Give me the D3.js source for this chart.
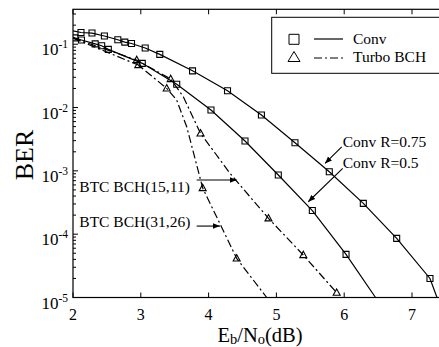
<!DOCTYPE html>
<html>
<head>
<meta charset="utf-8">
<script src="https://cdn.jsdelivr.net/npm/d3@7"></script>
<style>
html,body{margin:0;padding:0;background:#fff;}
svg{display:block;}
text{font-family:"Liberation Serif","Times New Roman",serif;fill:#000;}
</style>
</head>
<body>
<svg id="chart" width="439" height="347"></svg>
<script>
// ---- data ----
const xTicks = [2, 3, 4, 5, 6, 7];
const yTickExps = [-5, -4, -3, -2, -1];

const convR075X = [2.0, 2.118, 2.28, 2.463, 2.661, 2.764, 2.863, 3.065, 3.28, 3.763, 4.279, 4.779, 5.274, 5.78, 6.282, 6.774, 7.265, 7.369];
const convR075Y = [0.163, 0.153, 0.150, 0.135, 0.1175, 0.108, 0.1026, 0.0871, 0.0692, 0.038, 0.0184, 0.00762, 0.00278, 9.68e-4, 3.07e-4, 8.59e-5, 2.0e-5, 1.0e-5];

const convR05X = [2.0, 2.027, 2.125, 2.327, 2.423, 2.521, 3.022, 3.53, 4.035, 4.537, 5.028, 5.53, 6.027, 6.462];
const convR05Y = [0.129, 0.126, 0.1165, 0.1014, 0.0947, 0.083, 0.0499, 0.0233, 0.00912, 0.00296, 8.59e-4, 2.36e-4, 4.8e-5, 1.0e-5];

const btc1511X = [2.0, 2.94, 3.441, 3.627, 3.881, 4.316, 4.883, 5.397, 5.889];
const btc1511Y = [0.125, 0.0562, 0.0282, 0.01483, 0.00391, 9.12e-4, 1.78e-4, 4.68e-5, 1.19e-5];
const btc1511Marks = [1, 2, 4, 6, 7, 8];

const btc3126X = [2.0, 2.963, 3.382, 3.529, 3.677, 3.913, 4.414, 4.857];
const btc3126Y = [0.125, 0.0469, 0.0201, 0.01313, 0.00498, 5.35e-4, 4.15e-5, 1.0e-5];
const btc3126Marks = [1, 2, 5, 6];

const legendLabels = ["Conv", "Turbo BCH"];
const annotationLabels = ["Conv R=0.75", "Conv R=0.5", "BTC BCH(15,11)", "BTC BCH(31,26)"];

// ---- layout ----
const svg = d3.select("#chart");
const pLeft = 73, pTop = 9.3, pBottom = 297.5;
const x = d3.scaleLinear().domain([2, 7.5]).range([pLeft, pLeft + 5.5 * 67.8]);
const y = d3.scaleLog().domain([1e-5, 0.356]).range([pBottom, pTop]);
const pRight = x(7.5);

const defs = svg.append("defs");
defs.append("marker").attr("id", "arrow").attr("viewBox", "0 0 10 10")
  .attr("refX", 10).attr("refY", 5).attr("markerWidth", 7).attr("markerHeight", 7)
  .attr("markerUnits", "userSpaceOnUse").attr("orient", "auto")
  .append("path").attr("d", "M0,1 L10,5 L0,9 z").attr("fill", "#000");

// frame
svg.append("rect").attr("x", pLeft).attr("y", pTop).attr("width", pRight - pLeft).attr("height", pBottom - pTop)
  .attr("fill", "none").attr("stroke", "#000").attr("stroke-width", 1.2);

// x ticks (inward, bottom and top)
const g = svg.append("g");
xTicks.forEach(t => {
  g.append("line").attr("x1", x(t)).attr("x2", x(t)).attr("y1", pBottom).attr("y2", pBottom - 5).attr("stroke", "#000");
  g.append("line").attr("x1", x(t)).attr("x2", x(t)).attr("y1", pTop).attr("y2", pTop + 5).attr("stroke", "#000");
  g.append("text").attr("x", x(t)).attr("y", 319.5).attr("text-anchor", "middle").attr("font-size", 16).text(t);
});

// y ticks major + minor
yTickExps.forEach(e => {
  const v = Math.pow(10, e);
  g.append("line").attr("x1", pLeft).attr("x2", pLeft + 5).attr("y1", y(v)).attr("y2", y(v)).attr("stroke", "#000");
  const t = g.append("text").attr("x", 68).attr("y", y(v) + 11).attr("text-anchor", "end").attr("font-size", 17);
  t.append("tspan").text("10");
  t.append("tspan").attr("font-size", 11.5).attr("dy", -7).text(String(e));
  for (let k = 2; k <= 9; k++) {
    const mv = k * v;
    if (mv <= y.domain()[1]) {
      g.append("line").attr("x1", pLeft).attr("x2", pLeft + 3).attr("y1", y(mv)).attr("y2", y(mv)).attr("stroke", "#000");
    }
  }
});

// axis titles
svg.append("text").attr("transform", "translate(33,155) rotate(-90)").attr("text-anchor", "middle")
  .attr("font-size", 26).text("BER");
const xl = svg.append("text").attr("x", 260).attr("y", 341.5).attr("text-anchor", "middle").attr("font-size", 20.5);
xl.append("tspan").text("E");
xl.append("tspan").attr("font-size", 14.5).attr("dy", 2).text("b");
xl.append("tspan").attr("dy", -2).text("/N");
xl.append("tspan").attr("font-size", 14.5).attr("dy", 2).text("o");
xl.append("tspan").attr("dy", -2).text("(dB)");

// curves
const line = d3.line().x(d => x(d[0])).y(d => y(d[1]));
const zip = (a, b) => a.map((v, i) => [v, b[i]]);
svg.append("clipPath").attr("id", "pa").append("rect")
  .attr("x", pLeft).attr("y", pTop).attr("width", pRight - pLeft).attr("height", pBottom - pTop);
const plot = svg.append("g").attr("clip-path", "url(#pa)");

const series = [
  { pts: zip(convR075X, convR075Y), dash: null, shape: "sq" },
  { pts: zip(convR05X, convR05Y), dash: null, shape: "sq" },
  { pts: zip(btc1511X, btc1511Y), dash: "8,3,2,3", shape: "tri", marks: btc1511Marks },
  { pts: zip(btc3126X, btc3126Y), dash: "8,3,2,3", shape: "tri", marks: btc3126Marks }
];
const sqPath = "M-3,-3 L3,-3 L3,3 L-3,3 Z";
const triPath = "M0,-3.8 L3.5,2.6 L-3.5,2.6 Z";
series.forEach(s => {
  plot.append("path").attr("d", line(s.pts)).attr("fill", "none").attr("stroke", "#000")
    .attr("stroke-width", 1.2).attr("stroke-dasharray", s.dash);
  const mpts = s.marks ? s.marks.map(i => s.pts[i])
    : s.pts.filter(p => p[0] > 2.0 && p[1] > 1e-5);
  plot.selectAll(null).data(mpts).enter().append("path")
    .attr("transform", d => `translate(${x(d[0])},${y(d[1])})`)
    .attr("d", s.shape === "sq" ? sqPath : triPath)
    .attr("fill", "none").attr("stroke", "#000").attr("stroke-width", 1.1);
});

// legend
const lg = svg.append("g");
lg.append("rect").attr("x", 271.7).attr("y", 17.3).attr("width", 200).attr("height", 56)
  .attr("fill", "#fff").attr("stroke", "#000").attr("stroke-width", 1);
lg.append("path").attr("transform", "translate(294,39.3)").attr("d", "M-5,-5 L5,-5 L5,5 L-5,5 Z")
  .attr("fill", "none").attr("stroke", "#000");
lg.append("path").attr("transform", "translate(294,57)").attr("d", "M0,-5.5 L6,4.5 L-6,4.5 Z")
  .attr("fill", "none").attr("stroke", "#000");
lg.append("line").attr("x1", 314).attr("x2", 343).attr("y1", 39).attr("y2", 39).attr("stroke", "#000").attr("stroke-width", 1.2);
lg.append("line").attr("x1", 314).attr("x2", 343).attr("y1", 58).attr("y2", 58).attr("stroke", "#000")
  .attr("stroke-width", 1.2).attr("stroke-dasharray", "8,3,2,3");
lg.append("text").attr("x", 353).attr("y", 44).attr("font-size", 15.5).text(legendLabels[0]);
lg.append("text").attr("x", 353).attr("y", 62).attr("font-size", 15.5).text(legendLabels[1]);

// annotations (data coordinates)
const L = e => Math.pow(10, e);
const ann = [
  { text: annotationLabels[0], tx: 5.978, ty: L(-2.616), from: [5.963, L(-2.62)], to: [5.717, L(-2.882)] },
  { text: annotationLabels[1], tx: 5.978, ty: L(-2.956), from: [5.978, L(-2.96)], to: [5.47, L(-3.488)] },
  { text: annotationLabels[2], tx: 2.093, ty: L(-3.335), from: [3.824, L(-3.145)], to: [4.414, L(-3.145)] },
  { text: annotationLabels[3], tx: 2.093, ty: L(-3.888), from: [3.824, L(-3.872)], to: [4.168, L(-3.872)] }
];
ann.forEach(a => {
  svg.append("text").attr("x", x(a.tx)).attr("y", y(a.ty)).attr("font-size", 15.5).text(a.text);
  svg.append("line").attr("x1", x(a.from[0])).attr("y1", y(a.from[1]))
    .attr("x2", x(a.to[0])).attr("y2", y(a.to[1])).attr("stroke", "#000").attr("stroke-width", 1.1)
    .attr("marker-end", "url(#arrow)");
});
</script>
</body>
</html>
